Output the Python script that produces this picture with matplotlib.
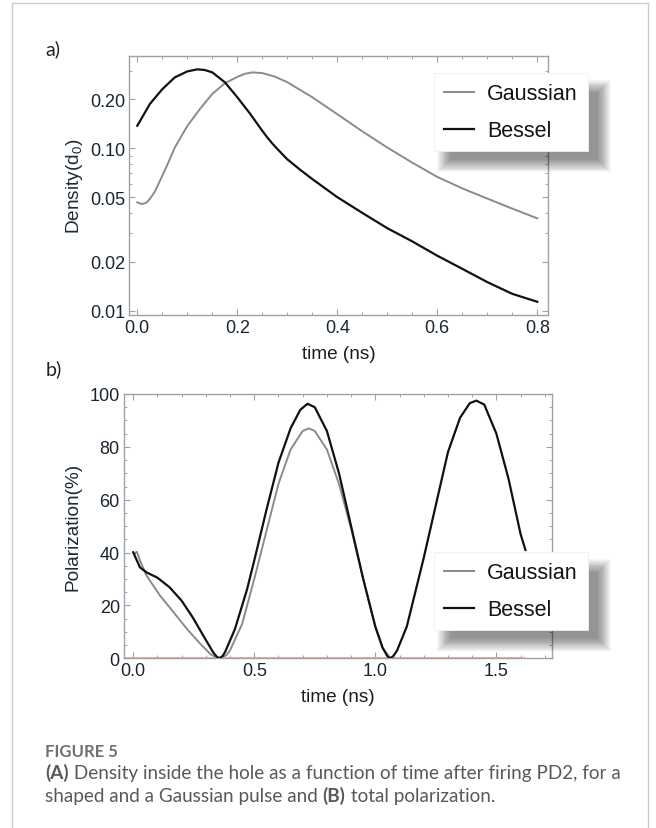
import matplotlib
matplotlib.use("Agg")
import matplotlib.pyplot as plt
from matplotlib.lines import Line2D
from matplotlib.patches import Rectangle
from matplotlib.transforms import IdentityTransform
from matplotlib.ticker import FixedLocator, FixedFormatter, MultipleLocator, LogLocator, NullFormatter

plt.rcParams.update({
    "font.family": ["Liberation Sans", "DejaVu Sans"],
    "mathtext.fontset": "custom",
    "mathtext.rm": "Liberation Sans",
    "mathtext.it": "Liberation Sans:italic",
})

# (a) density inside the hole, in units of d0
t_gauss_a = [0, 0.005, 0.01, 0.018, 0.025, 0.035, 0.05, 0.06, 0.075, 0.1, 0.125, 0.15,
             0.175, 0.2, 0.215, 0.23, 0.25, 0.275, 0.3, 0.35, 0.4, 0.45, 0.5, 0.55, 0.6,
             0.65, 0.7, 0.75, 0.8]
dens_gauss = [0.0465, 0.0457, 0.0454, 0.0462, 0.0487, 0.054, 0.0677, 0.079, 0.101, 0.137,
              0.174, 0.216, 0.251, 0.275, 0.287, 0.293, 0.290, 0.276, 0.255, 0.206, 0.162,
              0.127, 0.101, 0.0815, 0.0666, 0.0566, 0.0490, 0.0425, 0.0370]
t_bessel_a = [0, 0.025, 0.05, 0.075, 0.1, 0.12, 0.135, 0.15, 0.175, 0.2, 0.225, 0.25,
              0.26, 0.27, 0.28, 0.29, 0.3, 0.325, 0.35, 0.4, 0.45, 0.5, 0.55, 0.6, 0.65,
              0.7, 0.75, 0.8]
dens_bessel = [0.1375, 0.187, 0.231, 0.273, 0.297, 0.306, 0.303, 0.293, 0.255, 0.206,
               0.164, 0.128, 0.1165, 0.107, 0.099, 0.092, 0.0855, 0.074, 0.0646, 0.050,
               0.040, 0.0322, 0.0267, 0.0218, 0.0181, 0.0150, 0.0127, 0.01135]

# (b) total polarization in %
t_gauss_b = [0.005, 0.015, 0.028, 0.055, 0.111, 0.167, 0.222, 0.278, 0.319, 0.34, 0.362,
             0.385, 0.4, 0.45, 0.5, 0.55, 0.6, 0.65, 0.7, 0.725, 0.75, 0.8, 0.85, 0.9,
             0.95, 1.0, 1.03, 1.062]
pol_gauss = [39.5, 40.3, 37, 31.3, 23.7, 17.4, 11.1, 5.4, 1.6, 0.5, 0, 1.2, 3, 13, 30,
             48, 66, 79, 86, 87, 86, 79, 66, 49, 30, 12, 4, 0]
t_bessel_b = [0, 0.028, 0.055, 0.1, 0.15, 0.2, 0.245, 0.29, 0.33, 0.345, 0.355, 0.37,
              0.38, 0.42, 0.47, 0.5, 0.55, 0.6, 0.65, 0.69, 0.72, 0.75, 0.8, 0.85, 0.9,
              0.95, 1.0, 1.03, 1.05, 1.062, 1.075, 1.09, 1.13, 1.2, 1.25, 1.3, 1.35,
              1.39, 1.417, 1.45, 1.5, 1.55, 1.6, 1.62]
pol_bessel = [40.1, 34.4, 32.5, 30.5, 26.9, 21.8, 15.6, 8.5, 2.3, 0.6, 0, 0.9, 2.5, 11,
              26, 37, 56, 74, 87, 94, 96.3, 95, 86, 70, 50, 30, 12, 4, 0.8, 0, 0.9, 3,
              12, 38, 58, 78, 91, 96.5, 97.5, 96, 85, 68, 47, 41]

dens_ticks = [0.01, 0.02, 0.05, 0.10, 0.20]
dens_tick_labels = ["0.01", "0.02", "0.05", "0.10", "0.20"]
series_labels = ["Gaussian", "Bessel"]

W, H = 656, 829
GRAY = "#858d92"
BLACK = "#111111"
FRAME = "#9aa3aa"
TICKTXT = "#1a2530"
NARROW = ["Liberation Sans Narrow", "Liberation Sans"]

fig = plt.figure(figsize=(W / 100, H / 100), dpi=100)
fig.patch.set_facecolor("white")


def px_axes(left, top, right, bottom):
    return fig.add_axes([left / W, 1 - bottom / H, (right - left) / W, (bottom - top) / H])


def style(ax):
    for s in ax.spines.values():
        s.set_color(FRAME)
        s.set_linewidth(1.0)
    ax.tick_params(which="both", direction="in", top=True, right=True, colors=FRAME,
                   labelcolor=TICKTXT, labelsize=13, pad=3, labelfontfamily=NARROW)
    ax.tick_params(which="major", length=4.5, width=0.8)
    ax.tick_params(which="minor", length=2.5, width=0.7)


def legend_with_shadow(ax, handles, top_left):
    leg = ax.legend(handles, series_labels, loc="upper left",
                    bbox_to_anchor=(top_left[0] / W, 1 - top_left[1] / H),
                    bbox_transform=fig.transFigure, borderaxespad=0,
                    fontsize=15.5, frameon=True, fancybox=False, borderpad=0.47,
                    labelspacing=0.74, handlelength=1.4, handletextpad=0.59,
                    framealpha=1, facecolor="white", edgecolor="#f0f0f0")
    leg.get_frame().set_linewidth(0.6)
    for txt in leg.get_texts():
        txt.set_color("#141414")
    fig.canvas.draw()
    bb = leg.get_frame().get_window_extent()
    # soft drop shadow: stacked translucent boxes, offset right and down
    layers, blur, dx, dy = 16, 14, 9, -7
    for i in range(layers):
        g = blur * (1 - i / layers)
        ax.add_patch(Rectangle((bb.x0 + dx - g + blur * 0.6, bb.y0 + dy - g),
                               bb.width + 2 * g - blur * 0.6, bb.height + 2 * g - blur,
                               transform=IdentityTransform(), facecolor="black",
                               edgecolor="none", alpha=0.03, zorder=4.5, clip_on=False))
    return leg


# ---------------------------------------------------------------- panel a
ax_a = px_axes(129.3, 57.3, 548, 315.7)
g_a, = ax_a.plot(t_gauss_a, dens_gauss, color=GRAY, lw=1.4, zorder=2)
b_a, = ax_a.plot(t_bessel_a, dens_bessel, color=BLACK, lw=1.6, zorder=3)
ax_a.set_yscale("log")
ax_a.set_xlim(-0.016, 0.8214)
ax_a.set_ylim(0.00945, 0.368)
ax_a.yaxis.set_major_locator(FixedLocator(dens_ticks))
ax_a.yaxis.set_major_formatter(FixedFormatter(dens_tick_labels))
ax_a.yaxis.set_minor_locator(LogLocator(subs=range(2, 10)))
ax_a.yaxis.set_minor_formatter(NullFormatter())
ax_a.xaxis.set_major_locator(MultipleLocator(0.2))
ax_a.xaxis.set_minor_locator(MultipleLocator(0.05))
ax_a.xaxis.set_major_formatter(lambda v, p: f"{v:.1f}")
style(ax_a)
ax_a.set_xlabel("time (ns)", fontsize=13.7, color="#1c1c1c", va="center")
ax_a.xaxis.set_label_coords(0.5, -0.152)
ax_a.set_ylabel("Density(d$_0$)", fontsize=13.7, color="#1c2a33", va="center")
ax_a.yaxis.set_label_coords(-0.1297, 0.5)
legend_with_shadow(ax_a, [g_a, b_a], (434, 74))

# ---------------------------------------------------------------- panel b
ax_b = px_axes(124, 395, 552.3, 659.3)
g_b, = ax_b.plot(t_gauss_b, pol_gauss, color=GRAY, lw=1.4, zorder=2)
b_b, = ax_b.plot(t_bessel_b, pol_bessel, color=BLACK, lw=1.6, zorder=3)
ax_b.set_xlim(-0.038, 1.731)
ax_b.set_ylim(0, 100)
ax_b.hlines(0, -0.038, t_bessel_b[-1], color="#f2a486", lw=1.2, zorder=2.5, clip_on=False)
ax_b.xaxis.set_major_locator(MultipleLocator(0.5))
ax_b.xaxis.set_minor_locator(MultipleLocator(0.1))
ax_b.xaxis.set_major_formatter(lambda v, p: f"{v:.1f}")
ax_b.yaxis.set_major_locator(MultipleLocator(20))
ax_b.yaxis.set_minor_locator(MultipleLocator(5))
style(ax_b)
ax_b.set_xlabel("time (ns)", fontsize=13.7, color="#1c1c1c", va="center")
ax_b.xaxis.set_label_coords(0.5, -0.146)
ax_b.set_ylabel("Polarization(%)", fontsize=13.7, color="#1c2a33", va="center")
ax_b.yaxis.set_label_coords(-0.119, 0.5)
legend_with_shadow(ax_b, [g_b, b_b], (434, 553.3))

# panel tags
fig.text(45 / W, 1 - 49 / H, "a)", fontsize=14, family="Lato", color="#222222", va="center")
fig.text(46 / W, 1 - 369 / H, "b)", fontsize=14, family="Lato", color="#222222", va="center")

# page frame (open at the bottom)
frame_kw = dict(transform=fig.transFigure, color="#cccccc", lw=1.0)
fig.add_artist(Line2D([12 / W, 12 / W], [0, 1 - 4 / H], **frame_kw))
fig.add_artist(Line2D([648 / W, 648 / W], [0, 1 - 4 / H], **frame_kw))
fig.add_artist(Line2D([12 / W, 648 / W], [1 - 4 / H, 1 - 4 / H], **frame_kw))

# caption
CAP = "#595959"
fig.text(45 / W, 1 - 752 / H, "FIGURE 5", fontsize=12, family="Lato", fontweight="bold",
         color="#707070", va="center")


def caption_line(y, parts):
    prev = None
    for text, weight in parts:
        kw = dict(fontsize=13.6, family="Lato", fontweight=weight, color=CAP)
        if prev is None:
            prev = fig.text(45 / W, 1 - y / H, text, va="center", **kw)
        else:
            prev = fig.text(0, 0, text, va="bottom", ha="left", **kw)
            fig.canvas.draw()
            r = fig.canvas.get_renderer()
            bb0 = fig.texts[-2].get_window_extent(r)
            prev.set_position((bb0.x1 / W, bb0.y0 / H))
            prev.set_transform(fig.transFigure)


caption_line(773, [("(A)", "bold"),
                   (" Density inside the hole as a function of time after firing PD2, for a", "normal")])
caption_line(797, [("shaped and a Gaussian pulse and ", "normal"), ("(B)", "bold"),
                   (" total polarization.", "normal")])

fig.savefig("out.png", dpi=100, facecolor="white")
